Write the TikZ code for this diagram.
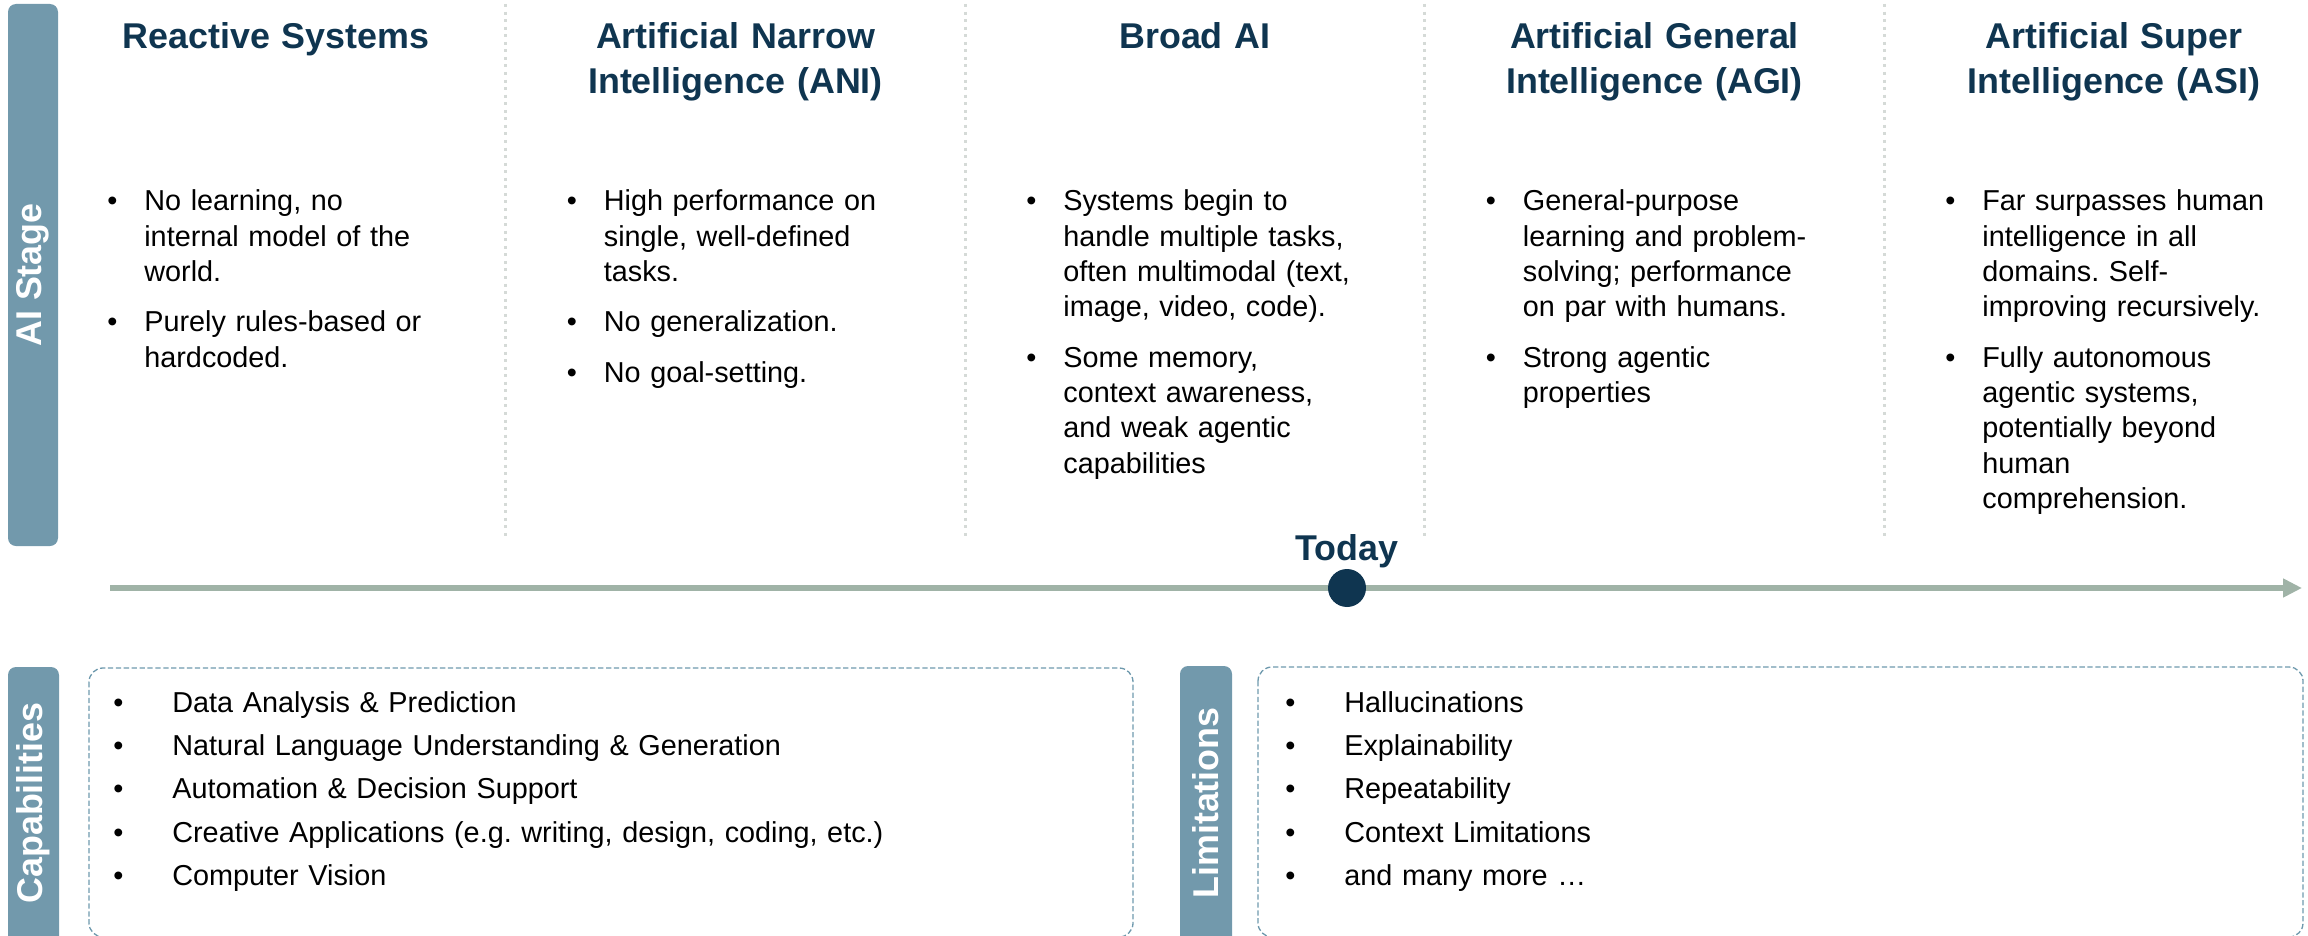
\documentclass[tikz,border=0pt]{standalone}
\usepackage{fontspec}
\setmainfont{Liberation Sans}
\usetikzlibrary{positioning,arrows.meta}
\frenchspacing

\definecolor{stageblue}{HTML}{7299AC}
\definecolor{navy}{HTML}{0F3550}
\definecolor{railgreen}{HTML}{A0B3A7}
\definecolor{sepgrey}{HTML}{D5DAD7}
\definecolor{boxblue}{HTML}{6E99AD}

\newcommand{\bitem}[2][0.74cm]{\ifvmode\noindent\fi\hangindent=#1\hangafter=1\rule{0pt}{14pt}\hbox to #1{\textbullet\hfil}#2\par}

\tikzset{
    sidebar/.style={fill=stageblue, rounded corners=0.16cm},
    sidelabel/.style={rotate=90, text=white, inner sep=0pt, font=\bfseries\fontsize{20.4}{24}\selectfont},
    stagetitle/.style={anchor=north, inner sep=0pt, text=navy, text width=9cm, align=center, font=\bfseries\fontsize{20.4}{25.5}\selectfont},
    stagetext/.style={anchor=north west, inner sep=0pt, text width=8cm, font=\fontsize{16.4}{20.1}\selectfont\setlength{\parskip}{8.5pt}\setlength{\parindent}{0pt}},
    listtext/.style={anchor=north west, inner sep=0pt, text width=18cm, font=\fontsize{16.4}{24.66}\selectfont\setlength{\parskip}{0pt}\setlength{\parindent}{0pt}},
    dashbox/.style={draw=boxblue, line width=0.75pt, dash pattern=on 3pt off 1.5pt, rounded corners=0.28cm},
    sepline/.style={draw=sepgrey, line width=1.7pt, dash pattern=on 1.7pt off 2.6pt},
    rail/.style={draw=railgreen, line width=3.1pt, -{Triangle[length=10.8pt,width=10.2pt]}},
    todaydot/.style={circle, fill=navy, minimum size=0.76cm, inner sep=0pt}
}

\begin{document}
\begin{tikzpicture}[x=0.02cm, y=-0.02cm]
    \useasboundingbox (0,0) rectangle (2308,936);
    \clip (0,0) rectangle (2308,936);

    % side bars
    \fill[sidebar] (8,4) rectangle (58,546);
    \fill[sidebar] (8,667) rectangle (59,960);
    \fill[sidebar] (1180,666) rectangle (1232,960);
    \node[sidelabel] (aistage) at (33,275) {AI Stage};
    \node[sidelabel] (capab) at (33.5,803) {Capabilities};
    \node[sidelabel] (limits) at (1206,803) {Limitations};

    % column separators
    \foreach \x in {505.5,965,1424.5,1884}
        \draw[sepline] (\x,4) -- (\x,540);

    % stage titles
    \node[stagetitle] (reactive) at (276,18) {\rule{0pt}{17pt}Reactive Systems};
    \node[stagetitle] (ani) at (735.5,18) {\rule{0pt}{17pt}Artificial Narrow\\Intelligence (ANI)};
    \node[stagetitle] (broad) at (1195,18) {\rule{0pt}{17pt}Broad AI};
    \node[stagetitle] (agi) at (1654.5,18) {\rule{0pt}{17pt}Artificial General\\Intelligence (AGI)};
    \node[stagetitle] (asi) at (2114,18) {\rule{0pt}{17pt}Artificial Super\\Intelligence (ASI)};

    % stage descriptions
    \node[stagetext] (reactivetext) at (107,186) {%
        \bitem{No learning, no\newline internal model of the\newline world.}
        \bitem{Purely rules-based or\newline hardcoded.}};
    \node[stagetext] (anitext) at (566.5,186) {%
        \bitem{High performance on\newline single, well-defined\newline tasks.}
        \bitem{No generalization.}
        \bitem{No goal-setting.}};
    \node[stagetext] (broadtext) at (1026,186) {%
        \bitem{Systems begin to\newline handle multiple tasks,\newline often multimodal (text,\newline image, video, code).}
        \bitem{Some memory,\newline context awareness,\newline and weak agentic\newline capabilities}};
    \node[stagetext] (agitext) at (1485.5,186) {%
        \bitem{General-purpose\newline learning and problem-\newline solving; performance\newline on par with humans.}
        \bitem{Strong agentic\newline properties}};
    \node[stagetext] (asitext) at (1945,186) {%
        \bitem{Far surpasses human\newline intelligence in all\newline domains. Self-\newline improving recursively.}
        \bitem{Fully autonomous\newline agentic systems,\newline potentially beyond\newline human\newline comprehension.}};

    % timeline
    \coordinate (railstart) at (110,588);
    \coordinate (railend) at (2302,588);
    \draw[rail] (railstart) -- (railend);
    \node[todaydot] (today) at (1347,588) {};
    \node[above=0pt of today, inner sep=0pt, text=navy, font=\bfseries\fontsize{20.4}{24}\selectfont] (todaylabel) {Today};

    % capabilities and limitations
    \draw[dashbox] (89,668) rectangle (1133,937);
    \draw[dashbox] (1258,667) rectangle (2303,937);
    \node[listtext] (capabtext) at (113,687.3) {%
        \bitem[1.18cm]{Data Analysis \& Prediction}
        \bitem[1.18cm]{Natural Language Understanding \& Generation}
        \bitem[1.18cm]{Automation \& Decision Support}
        \bitem[1.18cm]{Creative Applications (e.g. writing, design, coding, etc.)}
        \bitem[1.18cm]{Computer Vision}};
    \node[listtext] (limitstext) at (1285,687.3) {%
        \bitem[1.18cm]{Hallucinations}
        \bitem[1.18cm]{Explainability}
        \bitem[1.18cm]{Repeatability}
        \bitem[1.18cm]{Context Limitations}
        \bitem[1.18cm]{and many more …}};
\end{tikzpicture}
\end{document}
